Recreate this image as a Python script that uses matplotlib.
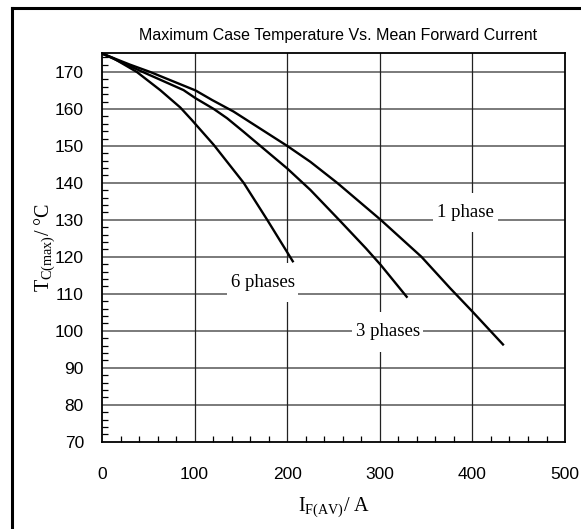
import matplotlib
matplotlib.use("Agg")
from matplotlib import pyplot as plt
from matplotlib import ticker as ticker
from matplotlib import font_manager
from matplotlib.path import Path
from matplotlib.lines import Line2D

# Curves
i_1ph = [0, 30, 52, 101, 119, 142, 200, 225, 254, 301, 345, 376, 400, 433]
t_1ph = [175, 172, 170, 165, 162.4, 159.3, 150, 145.7, 140, 130, 120, 111.5, 105.2, 96.3]

i_3ph = [0, 44, 88, 101, 120.6, 135, 153, 171, 200, 225, 256, 285, 301, 329]
t_3ph = [175, 170, 165.1, 162.9, 160, 157.5, 153.8, 150, 143.9, 138.1, 130, 122.3, 117.8, 109.2]

i_6ph = [0, 12.3, 37.6, 62.8, 84.5, 97, 120.6, 153, 178.4, 206]
t_6ph = [175, 173.7, 170, 165.1, 160.4, 157, 150.3, 140, 130, 118.8]

labels = ["1 phase", "3 phases", "6 phases"]
label_pos = [(392.5, 132), (308.4, 99.7), (173.4, 113.1)]

x_ticks = [0, 100, 200, 300, 400, 500]
y_ticks = [70, 80, 90, 100, 110, 120, 130, 140, 150, 160, 170]

names = {f.name for f in font_manager.fontManager.ttflist}
sans = "Liberation Sans Narrow" if "Liberation Sans Narrow" in names else "Liberation Sans"
serif = "Liberation Serif"
plt.rcParams['mathtext.fontset'] = 'custom'
plt.rcParams['mathtext.rm'] = serif

def label_box(x0, y0, width, height, mutation_size):
    # white box, taller than it is padded sideways
    px = 0.2 * mutation_size
    py = 0.6 * mutation_size
    x0, y0 = x0 - px, y0 - py
    x1, y1 = x0 + width + 2 * px, y0 + height + 2 * py
    return Path([(x0, y0), (x1, y0), (x1, y1), (x0, y1), (x0, y0)], closed=True)

fig = plt.figure(figsize=(5.81, 5.29), dpi=100)
ax = fig.add_axes([0.1756, 0.165, 0.7969, 0.7339])

# outer frame (only left and top edges show)
fig.add_artist(Line2D([12 / 581, 12 / 581], [0, 1 - 8 / 529], color="black", lw=2.2, transform=fig.transFigure))
fig.add_artist(Line2D([12 / 581, 1], [1 - 8 / 529, 1 - 8 / 529], color="black", lw=2.2, transform=fig.transFigure))

for v in y_ticks[1:]:
    ax.axhline(v, color="#707070", lw=1.3, zorder=1)
for v in x_ticks[1:-1]:
    ax.axvline(v, color="#222222", lw=0.9, zorder=1)

for xs, ys in [(i_1ph, t_1ph), (i_3ph, t_3ph), (i_6ph, t_6ph)]:
    ax.plot(xs, ys, color="black", lw=1.7, zorder=3, solid_joinstyle="round")

for txt, (lx, ly) in zip(labels, label_pos):
    ax.text(lx, ly, txt, family=serif, fontsize=13.5, ha="center", va="center", zorder=2,
            bbox=dict(boxstyle=label_box, fc="white", ec="none"))

ax.set_xlim(0, 500)
ax.set_ylim(70, 175)
ax.set_xticks(x_ticks)
ax.set_yticks(y_ticks)
ax.xaxis.set_minor_locator(ticker.MultipleLocator(20))
ax.yaxis.set_minor_locator(ticker.MultipleLocator(2))
ax.tick_params(which="major", length=0, labelsize=12.5)
for lab in ax.get_xticklabels() + ax.get_yticklabels():
    lab.set_family(sans)
ax.tick_params(axis="x", which="major", pad=18)
ax.tick_params(axis="y", which="major", pad=13)
ax.tick_params(which="minor", direction="in", length=4, width=0.9, color="black")
ax.tick_params(axis="x", which="minor", top=False)
ax.tick_params(axis="y", which="minor", right=False)
for s in ax.spines.values():
    s.set_linewidth(1.3)

ax.set_title("Maximum Case Temperature Vs. Mean Forward Current", family=sans, fontsize=11.5, pad=10, x=0.51)
ax.set_xlabel(r"I$_{\mathregular{F(AV)}}$/ A", family=serif, fontsize=14.5, labelpad=10)
ax.set_ylabel(r"T$_{\mathregular{C(max)}}$/ °C", family=serif, fontsize=14.5, labelpad=-2)

fig.savefig("out.png", dpi=100)
